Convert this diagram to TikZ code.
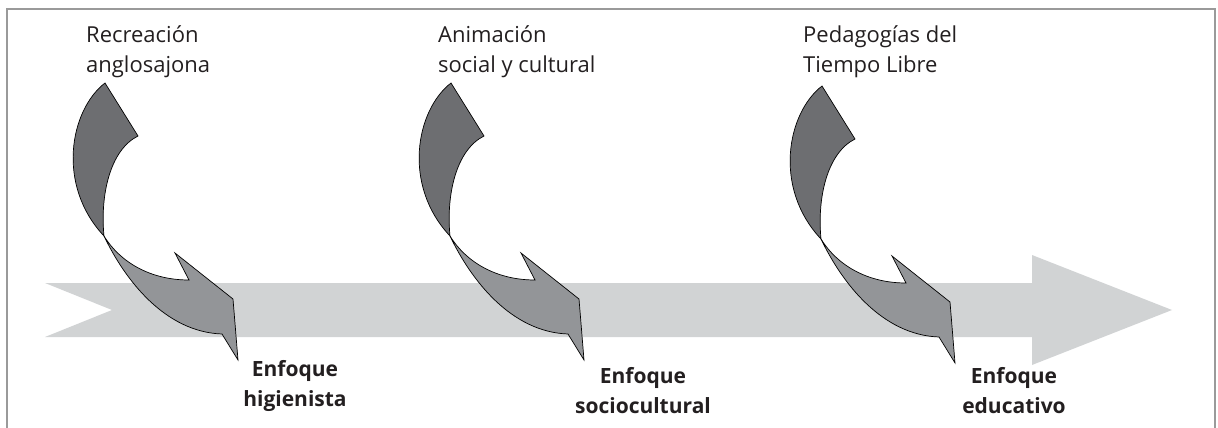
\documentclass[tikz,border=0pt]{standalone}
\usepackage{fontspec}
\setmainfont{Open Sans}
\definecolor{framegray}{HTML}{9A9A9A}
\definecolor{bandgray}{HTML}{D1D3D4}
\definecolor{darkrib}{HTML}{6D6E71}
\definecolor{lightrib}{HTML}{939598}
\definecolor{textcol}{HTML}{231F20}
\tikzset{
  ribedge/.style={draw=black, line width=0.7pt, line join=miter},
  twist/.pic={
    \coordinate (-T) at (0,0);
    \coordinate (-R) at (33,53);
    \coordinate (-X) at (-1,153);
    \coordinate (-L) at (117,251);
    \coordinate (-tip) at (133,277);
    \coordinate (-C) at (128,216);
    \coordinate (-B) at (70,170);
    \coordinate (-N) at (84,197);
    \path[ribedge, fill=lightrib] (-X) .. controls (20,197) and (60,249) .. (-L) -- (-tip) -- (-C) -- (-B) -- (-N) .. controls (45,197) and (15,179) .. (-X) -- cycle;
    \path[ribedge, fill=darkrib] (-T) -- (-R) .. controls (5,67) and (-5,112) .. (-X) .. controls (-49,102) and (-35,27) .. (-T) -- cycle;
  },
  toplabel/.style={anchor=base west, align=left, inner sep=0pt, text=textcol, font=\fontsize{22}{30}\selectfont},
  botlabel/.style={anchor=base, align=center, inner sep=0pt, text=textcol, font=\fontsize{21}{30}\selectfont\bfseries},
}
\begin{document}
\begin{tikzpicture}[x=1pt,y=-1pt]
\useasboundingbox (0,0) rectangle (1218,428);
% frame (open at the bottom)
\draw[framegray, line width=1.6pt] (7,428) -- (7,9) -- (1215,9) -- (1215,428);
% big timeline arrow
\fill[bandgray] (45,283) -- (1032,283) -- (1032,255) -- (1172,310) -- (1032,365) -- (1032,337) -- (45,337) -- (112,310) -- cycle;
% twisted arrows
\pic (a1) at (105,83) {twist};
\pic (a2) at (451,83) {twist};
\pic (a3) at (822,86) {twist};
% labels (base anchor = baseline of the last line)
\node[toplabel] (t1) at (86,73) {Recreación\\anglosajona};
\node[toplabel] (t2) at (438,73) {Animación\\social y cultural};
\node[toplabel] (t3) at (803,73) {Pedagogías del\\Tiempo Libre};
\node[botlabel] (b1) at (295,406) {Enfoque\\higienista};
\node[botlabel] (b2) at (643,413) {Enfoque\\sociocultural};
\node[botlabel] (b3) at (1014,413) {Enfoque\\educativo};
\end{tikzpicture}
\end{document}
